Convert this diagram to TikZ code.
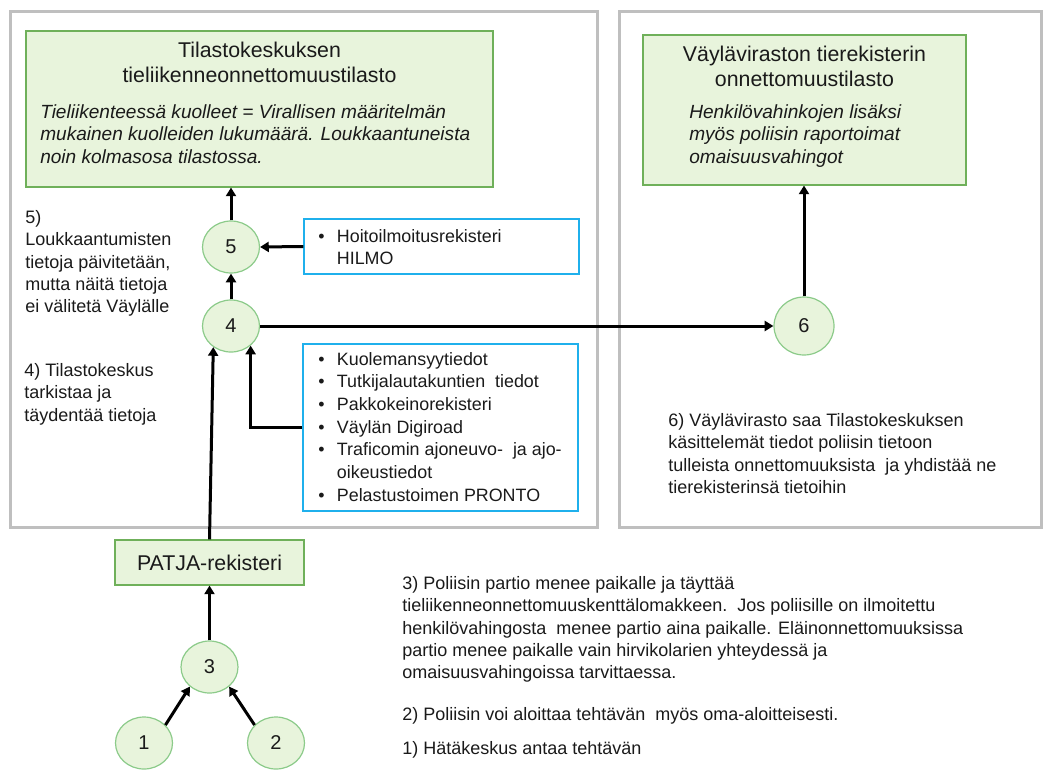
\documentclass[tikz,border=0pt]{standalone}
\usepackage{fontspec}
\setmainfont{Liberation Sans}
\usetikzlibrary{arrows.meta,shapes.geometric,fit}
\definecolor{gfill}{HTML}{E8F4DC}
\definecolor{gline}{HTML}{6FB05A}
\definecolor{cline}{HTML}{8CCB8A}
\definecolor{frameg}{HTML}{BFBFBF}
\definecolor{bline}{HTML}{1FB0EC}
\definecolor{txt}{HTML}{1A1A1A}
\newcommand{\bitem}[1]{\makebox[14pt][l]{\textbullet}#1}
\begin{document}
\begin{tikzpicture}[x=0.75pt,y=-0.75pt,
  outerbox/.style={draw=frameg,line width=2.25pt,inner sep=0pt},
  gbox/.style={draw=gline,fill=gfill,line width=0.8pt,inner sep=0pt},
  bbox/.style={draw=bline,line width=1.1pt,inner sep=0pt},
  num/.style={ellipse,draw=cline,fill=gfill,line width=0.9pt,inner sep=0pt,
    minimum width=42.75pt,minimum height=39pt,text=txt,
    font=\fontsize{15}{18}\selectfont},
  body/.style={inner sep=0pt,anchor=north west,align=left,text=txt,
    font=\fontsize{13.5}{16.8}\selectfont},
  blist/.style={inner sep=0pt,anchor=north west,align=left,text=txt,
    font=\fontsize{13.4}{17}\selectfont},
  ttl/.style={inner sep=0pt,anchor=north,align=center,text=txt,
    font=\fontsize{16}{18.75}\selectfont},
  itl/.style={inner sep=0pt,anchor=north west,align=left,text=txt,
    font=\fontsize{14.3}{17}\selectfont\itshape},
  arr/.style={line width=2.25pt,draw=black,-{Triangle[length=6.5pt,width=7.5pt]}},
]
\useasboundingbox (0,0) rectangle (1048,770);

% outer frames
\node[outerbox,fit={(10,12) (597,527)}] (lf) {};
\node[outerbox,fit={(619,12) (1041,527)}] (rf) {};

% green boxes
\node[gbox,fit={(26,31) (493,187)}] (g1) {};
\node[ttl] (g1t) at (259.5,42) {Tilastokeskuksen\\tieliikenneonnettomuustilasto};
\node[itl] (g1b) at (40,104) {Tieliikenteessä kuolleet = Virallisen määritelmän\\mukainen kuolleiden lukumäärä. Loukkaantuneista\\noin kolmasosa tilastossa.};

\node[gbox,fit={(643,35) (966,185)}] (g2) {};
\node[ttl] (g2t) at (804.5,46) {Väyläviraston tierekisterin\\onnettomuustilasto};
\node[itl] (g2b) at (689,104) {Henkilövahinkojen lisäksi\\myös poliisin raportoimat\\omaisuusvahingot};

% blue boxes
\node[bbox,fit={(304,219) (579,274)}] (hb) {};
\node[blist] (hbt) at (318,229) {\bitem{Hoitoilmoitusrekisteri}\\\hspace*{14pt}HILMO};

\node[bbox,fit={(303,344) (578,511)}] (b2) {};
\node[blist] (b2t) at (318,352) {\bitem{Kuolemansyytiedot}\\
\bitem{Tutkijalautakuntien\ \ tiedot}\\
\bitem{Pakkokeinorekisteri}\\
\bitem{Väylän Digiroad}\\
\bitem{Traficomin ajoneuvo-\ \ ja ajo-}\\
\hspace*{14pt}oikeustiedot\\
\bitem{Pelastustoimen PRONTO}};

% numbered nodes
\node[num] (c5) at (231,247) {5};
\node[num] (c4) at (231,326) {4};
\node[num,minimum width=45pt,minimum height=43.5pt] (c6) at (804,326) {6};
\node[num] (c3) at (209.5,667) {3};
\node[num] (c1) at (144,743) {1};
\node[num] (c2) at (276,743) {2};

\node[gbox,minimum width=141.75pt,minimum height=33.75pt,text=txt,
  font=\fontsize{16}{19}\selectfont] (patja) at (209.5,562.5) {PATJA-rekisteri};

% texts
\node[body] (t5) at (25,210) {5)\\Loukkaantumisten\\tietoja päivitetään,\\mutta näitä tietoja\\ei välitetä Väylälle};
\node[body] (t4) at (24,363) {4) Tilastokeskus\\tarkistaa ja\\täydentää tietoja};
\node[body] (t6) at (668,413) {6) Väylävirasto saa Tilastokeskuksen\\käsittelemät tiedot poliisin tietoon\\tulleista onnettomuuksista\ \ ja yhdistää ne\\tierekisterinsä tietoihin};
\node[body] (t3) at (402,576) {3) Poliisin partio menee paikalle ja täyttää\\tieliikenneonnettomuuskenttälomakkeen.\ \ Jos poliisille on ilmoitettu\\henkilövahingosta\ \ menee partio aina paikalle. Eläinonnettomuuksissa\\partio menee paikalle vain hirvikolarien yhteydessä ja\\omaisuusvahingoissa tarvittaessa.};
\node[body] (t2) at (402,707) {2) Poliisin voi aloittaa tehtävän\ \ myös oma-aloitteisesti.};
\node[body] (t1) at (402,741) {1) Hätäkeskus antaa tehtävän};

% connectors
\draw[arr] (c5.north) -- (c5.north |- g1.south);
\draw[arr] (c4.north) -- (c5.south);
\draw[arr] (hb.west) -- (c5.east);
\draw[arr] (c4.east) -- (c6.west);
\draw[arr] (c6.north) -- (c6.north |- g2.south);
\draw[arr] (patja.north) -- (c4.230);
\draw[arr] (b2.west) -| (c4.-45);
\draw[arr] (c3.north) -- (c3.north |- patja.south);
\draw[arr] (c1.40) -- (c3.225);
\draw[arr] (c2.140) -- (c3.-45);
\end{tikzpicture}
\end{document}
